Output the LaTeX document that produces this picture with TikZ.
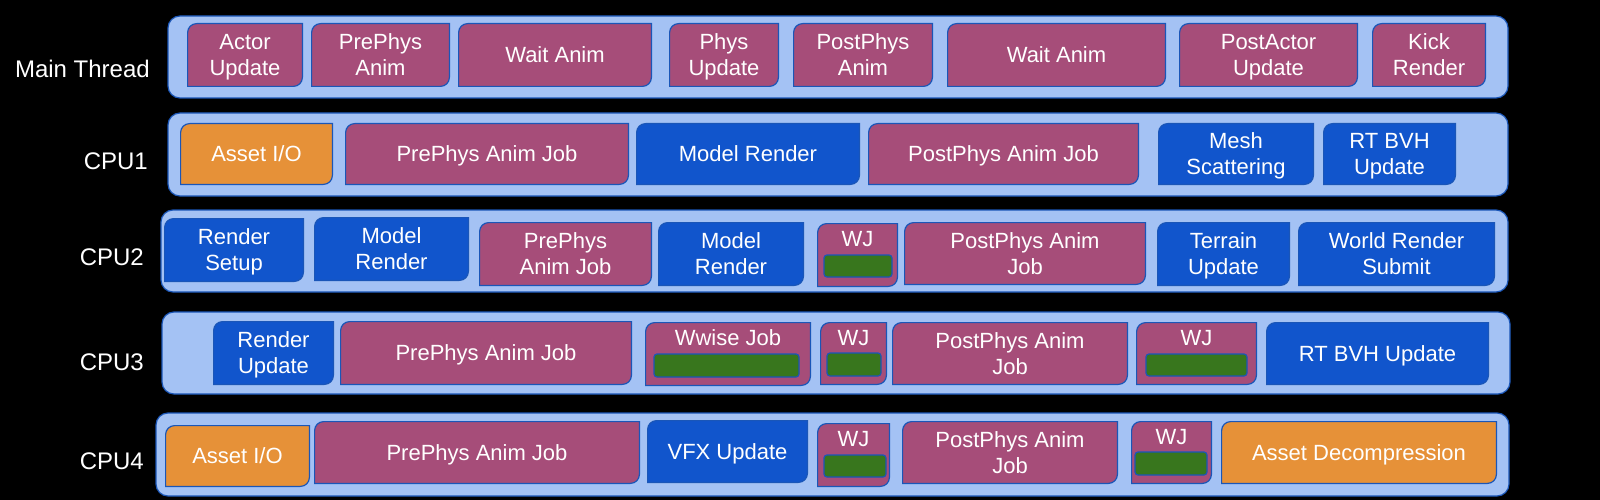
\documentclass[tikz,border=0pt]{standalone}
\usepackage{fontspec}
\setmainfont{Liberation Sans}
\usetikzlibrary{calc}

\definecolor{jobpurple}{HTML}{A64D79}
\definecolor{jobblue}{HTML}{1155CC}
\definecolor{joborange}{HTML}{E69138}
\definecolor{wjgreen}{HTML}{38761D}
\definecolor{laneblue}{HTML}{A4C2F4}
\definecolor{edgeblue}{HTML}{1A56B8}

\newcommand{\jobfont}{\fontsize{22}{26}\selectfont}

\tikzset{
  sz/.style 2 args={minimum width=#1pt,minimum height=#2pt},
  flat/.style={text depth=0pt},
  lane/.style={draw=edgeblue,fill=laneblue,line width=1.2pt,rounded corners=12pt,inner sep=0pt},
  job/.style={inner sep=0pt,text=white,align=center,font=\jobfont,
    path picture={
      \draw[fill=#1,draw=edgeblue,line width=1.2pt]
        let \p1=($(path picture bounding box.south west)+(0.6pt,0.6pt)$),
            \p2=($(path picture bounding box.north east)-(0.6pt,0.6pt)$) in
        (\x1,\y1) -- (\x1,\y2-9pt) .. controls (\x1,\y2-4pt) and (\x1+4pt,\y2) .. (\x1+9pt,\y2)
        -- (\x2,\y2) -- (\x2,\y1+9pt) .. controls (\x2,\y1+4pt) and (\x2-4pt,\y1) .. (\x2-9pt,\y1)
        -- cycle;
    }},
  bar/.style={draw=edgeblue,fill=wjgreen,line width=1.2pt,rounded corners=3pt,inner sep=0pt},
  wjtext/.style={anchor=north,text=white,font=\jobfont,inner sep=8pt},
  cpu/.style={anchor=east,text=white,inner sep=0pt,font=\fontsize{24}{28}\selectfont},
}

\begin{document}
\begin{tikzpicture}[x=1pt,y=-1pt]

%Black page
\fill[black] (0,0) rectangle (1600,500);
\useasboundingbox (0,0) rectangle (1600,500);

%Thread names
\node (mtname) at (150,69)[cpu] {Main Thread};
\node (c1name) at (148,161)[cpu] {CPU1};
\node (c2name) at (144,257)[cpu] {CPU2};
\node (c3name) at (144,362)[cpu] {CPU3};
\node (c4name) at (144,461)[cpu] {CPU4};

%Lanes
\node (mtlane) at (838,57)[lane,sz={1340}{82}] {};
\node (c1lane) at (838,154.5)[lane,sz={1340}{83}] {};
\node (c2lane) at (834.5,251)[lane,sz={1347}{82}] {};
\node (c3lane) at (836,353)[lane,sz={1348}{82}] {};
\node (c4lane) at (832.5,454.5)[lane,sz={1353}{83}] {};

%Main thread
\node (mt1) at (245,55)[job=jobpurple,sz={116}{64}] {Actor\\\smash{Update}};
\node (mt2) at (380.5,55)[job=jobpurple,sz={139}{64}] {PrePhys\\\smash{Anim}};
\node (mt3) at (555,55)[job=jobpurple,sz={194}{64},flat] {Wait Anim};
\node (mt4) at (724,55)[job=jobpurple,sz={110}{64}] {Phys\\\smash{Update}};
\node (mt5) at (863,55)[job=jobpurple,sz={140}{64}] {PostPhys\\\smash{Anim}};
\node (mt6) at (1056.5,55)[job=jobpurple,sz={219}{64},flat] {Wait Anim};
\node (mt7) at (1268.5,55)[job=jobpurple,sz={179}{64}] {PostActor\\\smash{Update}};
\node (mt8) at (1429,55)[job=jobpurple,sz={114}{64}] {Kick\\\smash{Render}};

%CPU1
\node (c1a) at (256.5,154)[job=joborange,sz={153}{62},flat] {Asset I/O};
\node (c1b) at (487,154)[job=jobpurple,sz={284}{62},flat] {PrePhys Anim Job};
\node (c1c) at (748,154)[job=jobblue,sz={224}{62},flat] {Model Render};
\node (c1d) at (1003.5,154)[job=jobpurple,sz={271}{62},flat] {PostPhys Anim Job};
\node (c1e) at (1236,154)[job=jobblue,sz={156}{62}] {Mesh\\\smash{Scattering}};
\node (c1f) at (1389.5,154)[job=jobblue,sz={133}{62}] {RT BVH\\\smash{Update}};

%CPU2
\node (c2a) at (234,250)[job=jobblue,sz={140}{64}] {Render\\\smash{Setup}};
\node (c2b) at (391.5,249)[job=jobblue,sz={155}{64}] {Model\\\smash{Render}};
\node (c2c) at (565.5,254)[job=jobpurple,sz={173}{64}] {PrePhys\\\smash{Anim Job}};
\node (c2d) at (731,254)[job=jobblue,sz={146}{64}] {Model\\\smash{Render}};
\node (c2e) at (857.5,255)[job=jobpurple,sz={81}{64},label={[wjtext]north:WJ}] {};
\node (c2eg) at (858,266)[bar,sz={68}{22}] {};
\node (c2f) at (1025,253.5)[job=jobpurple,sz={242}{63}] {PostPhys Anim\\\smash{Job}};
\node (c2g) at (1223.5,254)[job=jobblue,sz={133}{64}] {Terrain\\\smash{Update}};
\node (c2h) at (1396.5,254)[job=jobblue,sz={197}{64}] {World Render\\\smash{Submit}};

%CPU3
\node (c3a) at (273.5,353)[job=jobblue,sz={121}{64}] {Render\\\smash{Update}};
\node (c3b) at (486,353)[job=jobpurple,sz={292}{64},flat] {PrePhys Anim Job};
\node (c3c) at (728,354)[job=jobpurple,sz={166}{64},label={[wjtext]north:Wwise Job}] {};
\node (c3cg) at (726.5,365.5)[bar,sz={145}{23}] {};
\node (c3d) at (853.5,353.5)[job=jobpurple,sz={67}{63},label={[wjtext]north:WJ}] {};
\node (c3dg) at (854,364.5)[bar,sz={54}{23}] {};
\node (c3e) at (1010,353.5)[job=jobpurple,sz={236}{63}] {PostPhys Anim\\\smash{Job}};
\node (c3f) at (1196.5,353.5)[job=jobpurple,sz={121}{63},label={[wjtext]north:WJ}] {};
\node (c3fg) at (1196.5,365)[bar,sz={101}{22}] {};
\node (c3g) at (1377.5,353.5)[job=jobblue,sz={223}{63},flat] {RT BVH Update};

%CPU4
\node (c4a) at (237.5,456)[job=joborange,sz={145}{62},flat] {Asset I/O};
\node (c4b) at (477,452.5)[job=jobpurple,sz={326}{63},flat] {PrePhys Anim Job};
\node (c4c) at (727.5,451.5)[job=jobblue,sz={161}{63},flat] {VFX Update};
\node (c4d) at (853.5,455)[job=jobpurple,sz={73}{64},label={[wjtext]north:WJ}] {};
\node (c4dg) at (855,466)[bar,sz={62}{22}] {};
\node (c4e) at (1010,452.5)[job=jobpurple,sz={216}{63}] {PostPhys Anim\\\smash{Job}};
\node (c4f) at (1171.5,452.5)[job=jobpurple,sz={81}{63},label={[wjtext]north:WJ}] {};
\node (c4fg) at (1171,463.5)[bar,sz={72}{23}] {};
\node (c4g) at (1359,452.5)[job=joborange,sz={276}{63},flat] {Asset Decompression};

\end{tikzpicture}
\end{document}
